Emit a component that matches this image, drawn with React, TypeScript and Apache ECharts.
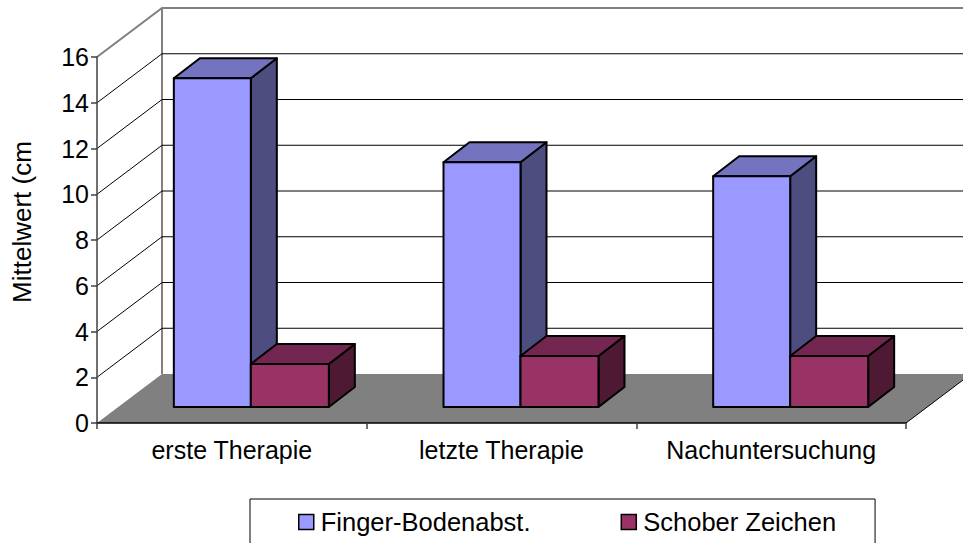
import React, { useEffect, useRef } from "react";
import * as echarts from "echarts";

const categories = ["erste Therapie", "letzte Therapie", "Nachuntersuchung"];
const fingerBoden = [14.37, 10.7, 10.09];
const schober = [1.88, 2.23, 2.23];
const wallValues = [0, 2, 4, 6, 8, 10, 12, 14, 16];
const SERIES_NAMES = ["Finger-Bodenabst.", "Schober Zeichen"];
const FONT = "Liberation Sans";

const BACK = { dx: 65, dy: -49 };
const DEPTH = { dx: 26, dy: -20 };
const BASE_LIFT = 16;

const renderWall = (params: any, api: any) => {
  const v = api.value(1);
  const cs = params.coordSys;
  const y = api.coord([0, v])[1];
  const xl = cs.x;
  const xr = cs.x + cs.width;
  const by = y + BACK.dy;
  const bl = xl + BACK.dx;
  const br = xr + BACK.dx;
  if (v === 0) {
    const topY = api.coord([0, 16])[1] + BACK.dy;
    return {
      type: "group",
      children: [
        {
          type: "polygon",
          shape: { points: [[xl, y], [xr, y], [br, by], [bl, by]] },
          style: { fill: "#808080", stroke: "none" },
        },
        {
          type: "line",
          shape: { x1: bl, y1: topY, x2: bl, y2: by },
          style: { stroke: "#808080", lineWidth: 2 },
        },
        {
          type: "line",
          shape: { x1: xr, y1: y, x2: br, y2: by },
          style: { stroke: "#000", lineWidth: 1 },
        },
      ],
    };
  }
  const top = v === wallValues[wallValues.length - 1];
  return {
    type: "polyline",
    shape: { points: [[xl, y], [bl, by], [br, by]] },
    style: { fill: "none", stroke: top ? "#808080" : "#000", lineWidth: top ? 2 : 1 },
  };
};

const makeBar = (front: string, side: string, topC: string, from: number, to: number) => (params: any, api: any) => {
  const c = api.coord([api.value(0), 0]);
  const t = api.coord([api.value(0), api.value(1)]);
  const x0 = c[0] + from;
  const x1 = c[0] + to;
  const yb = c[1] - BASE_LIFT;
  const yt = t[1] - BASE_LIFT;
  const st = { stroke: "#000", lineWidth: 2, lineJoin: "round" };
  return {
    type: "group",
    children: [
      {
        type: "polygon",
        shape: { points: [[x1, yt], [x1 + DEPTH.dx, yt + DEPTH.dy], [x1 + DEPTH.dx, yb + DEPTH.dy], [x1, yb]] },
        style: { fill: side, ...st },
      },
      {
        type: "polygon",
        shape: { points: [[x0, yt], [x0 + DEPTH.dx, yt + DEPTH.dy], [x1 + DEPTH.dx, yt + DEPTH.dy], [x1, yt]] },
        style: { fill: topC, ...st },
      },
      {
        type: "polygon",
        shape: { points: [[x0, yt], [x1, yt], [x1, yb], [x0, yb]] },
        style: { fill: front, ...st },
      },
    ],
  };
};

export default function App() {
  const ref = useRef<HTMLDivElement>(null);
  useEffect(() => {
    document.body.style.margin = "0";
    const chart = echarts.init(ref.current!, null, { renderer: "svg" });
    chart.setOption({
      animation: false,
      backgroundColor: "#fff",
      textStyle: { fontFamily: FONT },
      grid: { left: 97, right: 57, top: 57, bottom: 120 },
      legend: {
        data: SERIES_NAMES.map((name) => ({ name, icon: "rect" })),
        left: 250,
        top: 499,
        orient: "horizontal",
        padding: [10, 39, 26, 48],
        borderColor: "#000",
        borderWidth: 1,
        itemGap: 90,
        itemWidth: 15,
        itemHeight: 15,
        itemStyle: { borderColor: "#000", borderWidth: 1.5 },
        textStyle: { fontFamily: FONT, fontSize: 25.5, color: "#000", padding: [0, 0, 0, 2] },
        selectedMode: false,
      },
      xAxis: {
        type: "category",
        data: categories,
        z: 5,
        boundaryGap: true,
        axisLine: { lineStyle: { color: "#000", width: 1.5 } },
        axisTick: { show: true, length: 6, alignWithLabel: false, lineStyle: { color: "#404040", width: 1.5 } },
        axisLabel: { fontFamily: FONT, fontSize: 25, color: "#000", margin: 14, interval: 0 },
        splitLine: { show: false },
      },
      yAxis: {
        type: "value",
        min: 0,
        max: 16,
        interval: 2,
        z: 5,
        name: "Mittelwert (cm",
        nameLocation: "middle",
        nameGap: 62,
        nameTextStyle: { fontFamily: FONT, fontSize: 26, color: "#000", padding: [0, 0, 0, 36] },
        axisLine: { show: true, lineStyle: { color: "#404040", width: 1.5 } },
        axisTick: { show: true, length: 6, lineStyle: { color: "#404040", width: 1.5 } },
        axisLabel: { fontFamily: FONT, fontSize: 25, color: "#000", margin: 8 },
        splitLine: { show: false },
      },
      series: [
        {
          name: "Wand",
          type: "custom",
          silent: true,
          encode: { x: 0, y: 1 },
          data: wallValues.map((v) => [0, v]),
          renderItem: renderWall,
        },
        {
          name: SERIES_NAMES[0],
          type: "custom",
          encode: { x: 0, y: 1 },
          itemStyle: { color: "#9999FF" },
          data: fingerBoden.map((v, i) => [i, v]),
          renderItem: makeBar("#9999FF", "#4D4D80", "#7373BF", -58, 19),
        },
        {
          name: SERIES_NAMES[1],
          type: "custom",
          encode: { x: 0, y: 1 },
          itemStyle: { color: "#993366" },
          data: schober.map((v, i) => [i, v]),
          renderItem: makeBar("#993366", "#4D1933", "#732650", 19, 97),
        },
      ],
    });
    return () => chart.dispose();
  }, []);
  return <div ref={ref} style={{ position: "absolute", left: 0, top: 0, width: 963, height: 543, overflow: "hidden" }} />;
}
